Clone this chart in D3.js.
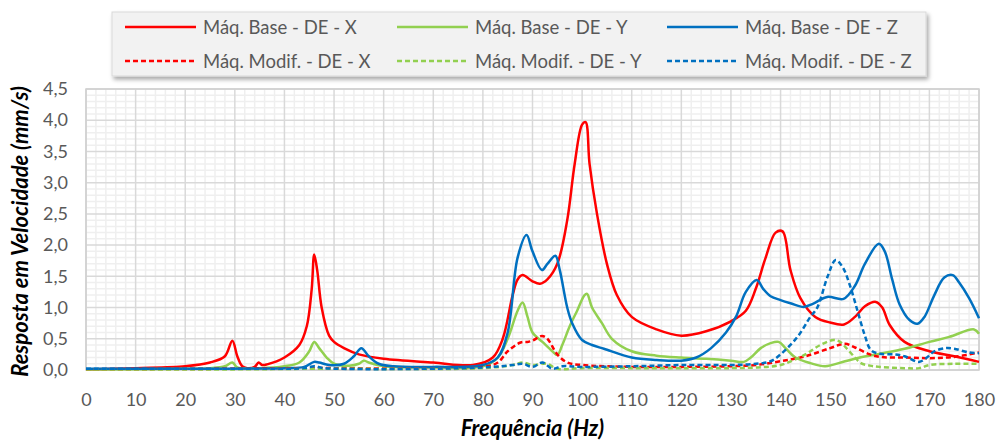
<!DOCTYPE html>
<html><head><meta charset="utf-8">
<script src="https://cdn.jsdelivr.net/npm/d3@7"></script>
<style>body{margin:0;background:#fff;} svg{display:block;}</style>
</head><body>
<svg id="c" width="998" height="444"></svg>
<script>
const xTicks = [0,10,20,30,40,50,60,70,80,90,100,110,120,130,140,150,160,170,180];
const yTicks = [0,0.5,1,1.5,2,2.5,3,3.5,4,4.5];
const seriesNames = ["Máq. Base - DE - X","Máq. Base - DE - Y","Máq. Base - DE - Z","Máq. Modif. - DE - X","Máq. Modif. - DE - Y","Máq. Modif. - DE - Z"];

const fBaseX = [0,10,20,25,28,29.5,30.5,31.5,32.5,34,34.8,35.5,36.5,40,43,44.5,45.5,46,46.6,47.5,49,50,52,55,60,70,78,82,84,86,87,88,90,91.5,93,95,97,98.5,100,100.7,101.5,103,105,107,110,115,120,125,130,133,135,137,139,140.4,142,144,147,150,152.8,155,157,159.2,160.5,162,165,170,175,180];
const vBaseX = [0.01,0.03,0.06,0.12,0.22,0.47,0.22,0.06,0.03,0.05,0.12,0.08,0.09,0.2,0.4,0.7,1.3,1.85,1.6,1.0,0.55,0.45,0.35,0.25,0.18,0.12,0.08,0.2,0.5,1.2,1.45,1.52,1.42,1.38,1.45,1.7,2.4,3.3,3.93,3.97,3.3,2.5,1.7,1.2,0.85,0.65,0.55,0.62,0.78,0.95,1.3,1.8,2.2,2.22,1.6,1.15,0.85,0.76,0.73,0.85,1.02,1.09,1.0,0.72,0.45,0.3,0.22,0.13];

const fBaseY = [0,20,25,28,29.5,30.5,35,40,43,45,46,47,48.5,50,53,55,56,57,60,70,80,83,85,87,88,89,90,92,94,95,96,97.5,99,100.5,101,102,104,106,110,115,120,125,130,132.6,134,136,138,139.6,141,143,146,149,153,156,160,165,170,174,179,180];
const vBaseY = [0.01,0.02,0.03,0.06,0.12,0.04,0.03,0.06,0.12,0.3,0.45,0.35,0.2,0.1,0.07,0.1,0.15,0.12,0.06,0.04,0.06,0.2,0.5,0.95,1.08,0.85,0.6,0.45,0.3,0.24,0.4,0.7,0.95,1.2,1.22,1.0,0.75,0.5,0.3,0.23,0.2,0.18,0.15,0.13,0.2,0.35,0.43,0.45,0.35,0.2,0.11,0.06,0.14,0.2,0.26,0.34,0.45,0.53,0.65,0.58];

const fBaseZ = [0,20,40,44,46,47,49,52,54,55.5,57,59,62,70,80,83,85,87,88.8,90,91.9,93,94.6,95.5,97,98,100,102,104.4,110,115,120,123,126,129,131,133,135.2,136.5,138,140,142,144.7,146.5,149.4,152.7,155,157,159.8,161,162.5,164,166,167.6,169,171,173,174.7,176,178,180];
const vBaseZ = [0.02,0.02,0.03,0.05,0.13,0.12,0.08,0.1,0.22,0.35,0.22,0.1,0.06,0.05,0.08,0.2,0.6,1.8,2.16,1.9,1.6,1.7,1.83,1.6,1.0,0.75,0.48,0.4,0.34,0.2,0.16,0.15,0.2,0.35,0.6,0.85,1.25,1.44,1.3,1.18,1.12,1.07,1.01,1.06,1.17,1.14,1.35,1.7,2.02,1.9,1.45,1.05,0.8,0.74,0.85,1.2,1.48,1.52,1.4,1.15,0.83];

const fModX = [0,30,46,80,83,85,87.6,89,90,91.9,93,95,97,100,110,120,130,135,140,145,150,153,155,158,160,165,170,175,180];
const vModX = [0.01,0.02,0.03,0.05,0.12,0.3,0.44,0.45,0.47,0.545,0.5,0.25,0.12,0.08,0.05,0.05,0.06,0.08,0.14,0.22,0.35,0.42,0.36,0.25,0.21,0.2,0.19,0.21,0.28];

const fModY = [0,30,46,80,86,88,90,92,93,95,100,110,120,130,135,140,145,148,150.7,152,153.5,155,156.2,158,160,165,168,170,175,180];
const vModY = [0.01,0.01,0.02,0.03,0.08,0.12,0.08,0.1,0.1,0.02,0.03,0.03,0.03,0.03,0.04,0.08,0.25,0.4,0.48,0.45,0.33,0.2,0.11,0.07,0.05,0.03,0.03,0.08,0.1,0.1];

const fModZ = [0,30,44,46,48,80,86,88,90,92,94,96,100,110,120,130,135,138,140,143.4,146,147.4,149.5,151.1,152.5,154,155.5,157,158.2,160,163,165,167.9,169.5,171,173.3,175,178,180];
const vModZ = [0.02,0.02,0.03,0.06,0.03,0.04,0.08,0.1,0.05,0.12,0.02,0.06,0.05,0.06,0.08,0.08,0.1,0.14,0.25,0.53,0.85,1.0,1.5,1.76,1.65,1.35,0.95,0.55,0.32,0.26,0.25,0.22,0.13,0.2,0.3,0.35,0.34,0.28,0.27];

const colors = ["#ff0000","#92d050","#0070c0","#ff0000","#92d050","#0070c0"];
const dashes = [null,null,null,"5,3","5,3","5,3"];
const freqs = [fBaseX,fBaseY,fBaseZ,fModX,fModY,fModZ];
const vals = [vBaseX,vBaseY,vBaseZ,vModX,vModY,vModZ];

const FONT = "Lato, 'Open Sans', sans-serif";
const svg = d3.select("#c");
const L=86,R=979,T=89,B=370;
const x = d3.scaleLinear().domain([0,180]).range([L,R]);
const y = d3.scaleLinear().domain([0,4.5]).range([B,T]);

const g = svg.append("g");
const minorX = d3.range(0,181,2).filter(v=>v%10!==0);
const minorY = d3.range(0,46,1).map(v=>v/10).filter((v,i)=>i%5!==0);
g.selectAll(".mx").data(minorX).enter().append("line")
  .attr("x1",d=>x(d)).attr("x2",d=>x(d)).attr("y1",T).attr("y2",B)
  .attr("stroke","#efefef").attr("stroke-width",1.5);
g.selectAll(".my").data(minorY).enter().append("line")
  .attr("y1",d=>y(d)).attr("y2",d=>y(d)).attr("x1",L).attr("x2",R)
  .attr("stroke","#efefef").attr("stroke-width",1.5);
g.selectAll(".Mx").data(xTicks).enter().append("line")
  .attr("x1",d=>x(d)).attr("x2",d=>x(d)).attr("y1",T).attr("y2",B)
  .attr("stroke","#d9d9d9").attr("stroke-width",1.5);
g.selectAll(".My").data(yTicks).enter().append("line")
  .attr("y1",d=>y(d)).attr("y2",d=>y(d)).attr("x1",L).attr("x2",R)
  .attr("stroke","#d9d9d9").attr("stroke-width",1.5);
g.append("rect").attr("x",L).attr("y",T).attr("width",R-L).attr("height",B-T)
  .attr("fill","none").attr("stroke","#d0d0d0").attr("stroke-width",1.5);

const fmt = d3.format(".1f");
const xAxis = svg.append("g").attr("transform",`translate(0,${B})`)
  .call(d3.axisBottom(x).tickValues(xTicks).tickSize(0).tickPadding(23));
const yAxis = svg.append("g").attr("transform",`translate(${L},0)`)
  .call(d3.axisLeft(y).tickValues(yTicks).tickSize(0).tickPadding(18).tickFormat(d=>fmt(d).replace(".",",")));
[xAxis,yAxis].forEach(a=>{
  a.select(".domain").remove();
  a.selectAll("text").attr("font-family",FONT).attr("font-size",18).attr("fill","#595959");
});

const line = d3.line().x(d=>x(d[0])).y(d=>y(d[1])).curve(d3.curveCatmullRom.alpha(0.5));
svg.append("clipPath").attr("id","pc").append("rect").attr("x",L).attr("y",T-5).attr("width",R-L+4).attr("height",B-T+8);
freqs.forEach((f,i)=>{
  const pts = f.map((fv,j)=>[fv,vals[i][j]]);
  svg.append("path").attr("d",line(pts)).attr("fill","none")
    .attr("stroke",colors[i]).attr("stroke-width",2.5)
    .attr("stroke-dasharray",dashes[i]).attr("clip-path","url(#pc)");
});

svg.append("text").attr("x",(L+R)/2).attr("y",436).attr("text-anchor","middle")
  .attr("font-family",FONT).attr("font-size",22).attr("font-weight","bold").attr("font-style","italic")
  .attr("fill","#000").text("Frequência (Hz)");
svg.append("text").attr("transform",`translate(28,${(T+B)/2+2}) rotate(-90)`).attr("text-anchor","middle")
  .attr("font-family",FONT).attr("font-size",22).attr("font-weight","bold").attr("font-style","italic")
  .attr("fill","#000").text("Resposta em Velocidade (mm/s)");

const defs = svg.append("defs");
const flt = defs.append("filter").attr("id","sh").attr("x","-5%").attr("y","-20%").attr("width","110%").attr("height","150%");
flt.append("feDropShadow").attr("dx",2).attr("dy",3).attr("stdDeviation",2).attr("flood-color","#000").attr("flood-opacity",0.35);
svg.append("rect").attr("x",112).attr("y",12).attr("width",814).attr("height",64)
  .attr("fill","#f2f2f2").attr("stroke","#d9d9d9").attr("filter","url(#sh)");
const colX = [125,397,667];
const rowY = [27,61];
seriesNames.forEach((n,i)=>{
  const cx = colX[i%3], cy = rowY[Math.floor(i/3)];
  svg.append("line").attr("x1",cx).attr("x2",cx+71).attr("y1",cy).attr("y2",cy)
    .attr("stroke",colors[i]).attr("stroke-width",2.5).attr("stroke-dasharray",dashes[i]);
  svg.append("text").attr("x",cx+78).attr("y",cy+6.5).attr("font-family",FONT)
    .attr("font-size",18.5).attr("fill","#595959").text(n);
});
</script>
</body></html>
